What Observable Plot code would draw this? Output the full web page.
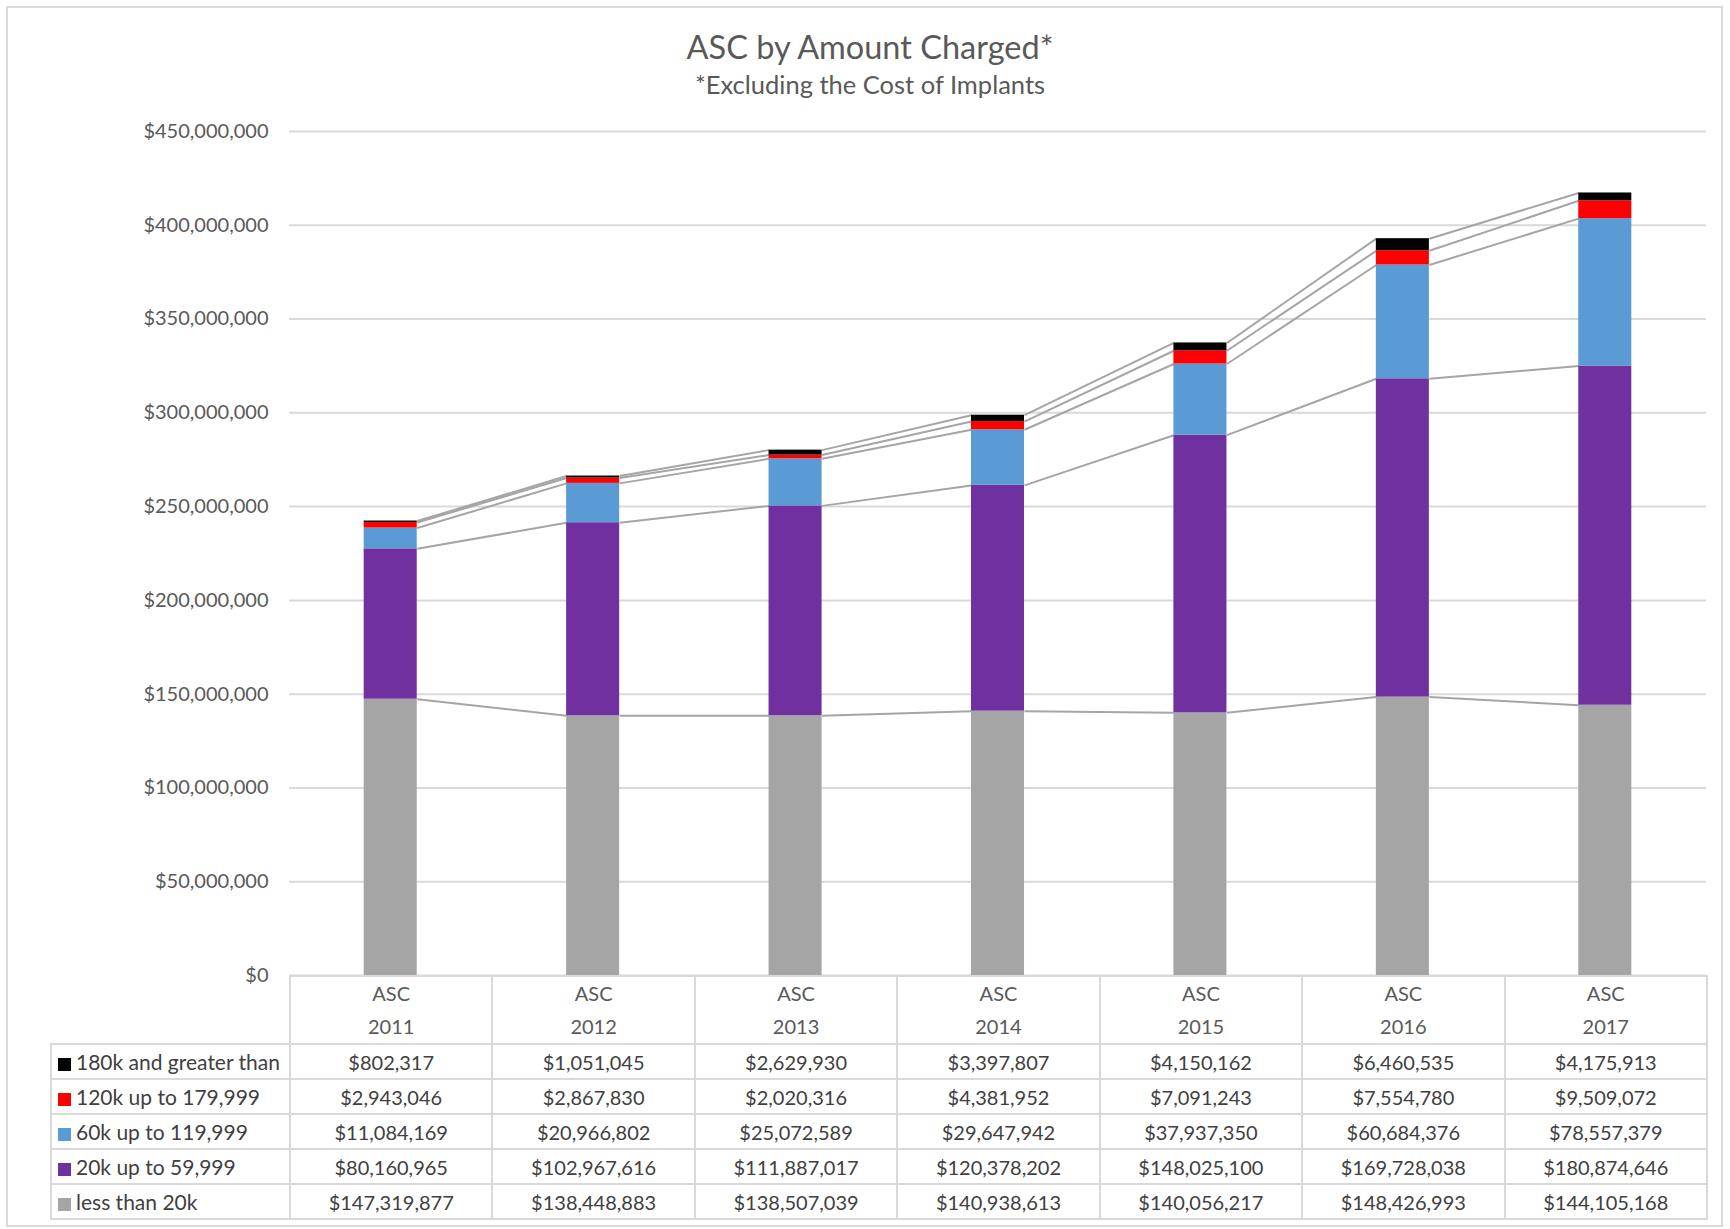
<!DOCTYPE html>
<html>
<head>
<meta charset="utf-8">
<script src="https://cdn.jsdelivr.net/npm/d3@7"></script>
<script src="https://cdn.jsdelivr.net/npm/@observablehq/plot@0.6"></script>
<style>
  body { margin: 0; background: #fff; font-family: Lato, "Noto Sans", sans-serif; }
  #chart { position: relative; width: 1730px; height: 1229px; overflow: hidden; background: #fff; }
  #frame { position: absolute; left: 6px; top: 6px; width: 1717px; height: 1221px; border: 2px solid #d9d9d9; box-sizing: border-box; }
  #title { position: absolute; left: 0; width: 1740px; top: 29px; text-align: center; font-size: 32.5px; color: #595959; line-height: 36px; }
  #subtitle { position: absolute; left: 0; width: 1740px; top: 69px; text-align: center; font-size: 25.5px; color: #595959; line-height: 30px; }
  #plot { position: absolute; left: 0; top: 0; }
  #table { position: absolute; left: 50px; top: 975px; border-collapse: collapse; table-layout: fixed; font-size: 20px; color: #404040; }
  #table td { border: 2px solid #d9d9d9; text-align: center; padding: 0; height: 33px; white-space: nowrap; }
  #table td.blank { border: none; }
  #table tr.head td { height: 62px; line-height: 33px; color: #595959; }
  #table td.lab { text-align: left; padding-left: 6px; color: #404040; font-size: 21px; }
  .sw { display: inline-block; width: 13px; height: 13px; margin-right: 5px; vertical-align: -1px; }
</style>
</head>
<body>
<div id="chart">
  <div id="frame"></div>
  <div id="title"></div>
  <div id="subtitle"></div>
  <div id="plot"></div>
  <table id="table"></table>
</div>
<script>
// ---- data ----
const titleText = "ASC by Amount Charged*";
const subtitleText = "*Excluding the Cost of Implants";
const years = [2011, 2012, 2013, 2014, 2015, 2016, 2017];
const categoryPrefix = "ASC";
// stacking order: bottom to top
const seriesNames = ["less than 20k", "20k up to 59,999", "60k up to 119,999", "120k up to 179,999", "180k and greater than"];
const seriesColors = ["#a5a5a5", "#7030a0", "#5b9bd5", "#ff0000", "#000000"];
const lessThan20k = [147319877, 138448883, 138507039, 140938613, 140056217, 148426993, 144105168];
const from20kTo59999 = [80160965, 102967616, 111887017, 120378202, 148025100, 169728038, 180874646];
const from60kTo119999 = [11084169, 20966802, 25072589, 29647942, 37937350, 60684376, 78557379];
const from120kTo179999 = [2943046, 2867830, 2020316, 4381952, 7091243, 7554780, 9509072];
const from180kUp = [802317, 1051045, 2629930, 3397807, 4150162, 6460535, 4175913];
const yTicks = [0, 50e6, 100e6, 150e6, 200e6, 250e6, 300e6, 350e6, 400e6, 450e6];
const seriesValues = [lessThan20k, from20kTo59999, from60kTo119999, from120kTo179999, from180kUp];

// ---- build stacked rows ----
const halfBar = 0.131;
const rows = [];
const tops = seriesNames.map(() => []);
years.forEach((yr, i) => {
  let acc = 0;
  seriesValues.forEach((vals, s) => {
    const y1 = acc, y2 = acc + vals[i];
    rows.push({year: yr, series: seriesNames[s], y1, y2});
    tops[s].push(y2);
    acc = y2;
  });
});
const links = [];
seriesNames.forEach((name, s) => {
  for (let i = 0; i < years.length - 1; i++) {
    links.push({x1: years[i] + halfBar, x2: years[i + 1] - halfBar, y1: tops[s][i], y2: tops[s][i + 1]});
  }
});

const money = d => "$" + d3.format(",")(d);

document.getElementById("title").textContent = titleText;
document.getElementById("subtitle").textContent = subtitleText;

const plot = Plot.plot({
  width: 1730,
  height: 1229,
  marginTop: 131,
  marginBottom: 254,
  marginLeft: 289,
  marginRight: 24,
  style: {fontFamily: "Lato, 'Noto Sans', sans-serif", background: "transparent"},
  x: {type: "linear", domain: [years[0] - 0.5, years[years.length - 1] + 0.5], axis: null},
  y: {domain: [0, 450e6], axis: null},
  color: {domain: seriesNames, range: seriesColors},
  marks: [
    Plot.gridY(yTicks, {stroke: "#d9d9d9", strokeOpacity: 1, strokeWidth: 2}),
    Plot.axisY(yTicks, {tickFormat: money, tickSize: 0, tickPadding: 21, fontSize: 20, color: "#595959", fill: "#595959"}),
    Plot.link(links, {x1: "x1", x2: "x2", y1: "y1", y2: "y2", stroke: "#a5a5a5", strokeWidth: 2}),
    Plot.rectY(rows, {x1: d => d.year - halfBar, x2: d => d.year + halfBar, y1: "y1", y2: "y2", fill: "series"})
  ]
});
document.getElementById("plot").appendChild(plot);

// ---- data table ----
const table = document.getElementById("table");
const colgroup = document.createElement("colgroup");
const c0 = document.createElement("col"); c0.style.width = "239px"; colgroup.appendChild(c0);
years.forEach(() => { const c = document.createElement("col"); c.style.width = (1417 / years.length) + "px"; colgroup.appendChild(c); });
table.appendChild(colgroup);
table.style.width = (239 + 1417) + "px";
const head = document.createElement("tr"); head.className = "head";
const blank = document.createElement("td"); blank.className = "blank"; head.appendChild(blank);
years.forEach(yr => { const td = document.createElement("td"); td.innerHTML = categoryPrefix + "<br>" + yr; head.appendChild(td); });
table.appendChild(head);
for (let s = seriesNames.length - 1; s >= 0; s--) {
  const tr = document.createElement("tr");
  const lab = document.createElement("td"); lab.className = "lab";
  const sw = document.createElement("span"); sw.className = "sw"; sw.style.background = seriesColors[s];
  lab.appendChild(sw); lab.appendChild(document.createTextNode(seriesNames[s]));
  tr.appendChild(lab);
  seriesValues[s].forEach(v => { const td = document.createElement("td"); td.textContent = money(v); tr.appendChild(td); });
  table.appendChild(tr);
}
</script>
</body>
</html>
